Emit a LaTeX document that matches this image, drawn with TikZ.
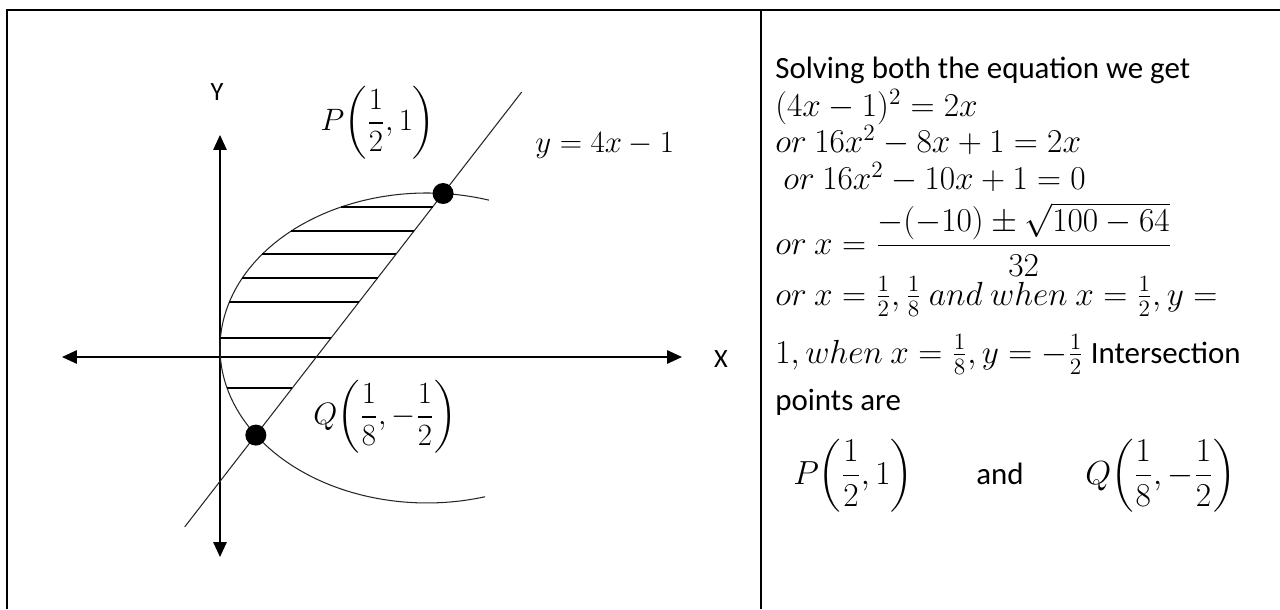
\RequirePackage{fix-cm}
\documentclass[tikz,border=0pt]{standalone}
\usepackage{amsmath}
\usepackage{fontspec}
\setmainfont{Carlito}
\usetikzlibrary{arrows.meta,calc}
\newcommand{\txtsize}{\fontsize{17.6}{21}\selectfont}
\begin{document}
\begin{tikzpicture}[x=0.02cm,y=0.02cm,
  frame/.style={line width=1.15pt},
  axis/.style={line width=0.85pt,-{Triangle[length=0.3cm,width=0.27cm]}},
  thinline/.style={line width=0.6pt,black!85},
  hatch/.style={line width=0.6pt},
  dot/.style={circle,fill=black,inner sep=0pt,minimum size=0.42cm},
  txt/.style={anchor=base west,inner sep=0pt,font=\txtsize},
  mtxt/.style={anchor=base west,inner sep=0pt,font=\fontsize{19}{19}\selectfont},
  mth/.style={inner sep=0pt,font=\fontsize{17.6}{17.6}\selectfont},
  lbl/.style={inner sep=0pt,font=\fontsize{15}{18}\selectfont}
]
\useasboundingbox (0,0) rectangle (1280,609);
% table frame
\draw[frame] (7,0) -- (7,599) -- (1280,599);
\draw[frame] (761,599) -- (761,0);
% axes
\coordinate (O) at (220,252);
\coordinate (Ytop) at (220,474);
\coordinate (Ybot) at (220,52);
\coordinate (Xl) at (62,252);
\coordinate (Xr) at (682,252);
\draw[axis] (O) -- (Ytop);
\draw[axis] (O) -- (Ybot);
\draw[axis] (O) -- (Xl);
\draw[axis] (O) -- (Xr);
% curve
\coordinate (C) at (427,261);
\draw[thinline] ($(C)+(72.6:4.14cm and 3.1cm)$) arc[start angle=72.6,end angle=286.3,x radius=4.14cm,y radius=3.1cm];
\coordinate (P) at ($(C)+(85.55:4.14cm and 3.1cm)$);
\coordinate (Q) at ($(C)+(214.2:4.14cm and 3.1cm)$);
% line y = 4x - 1
\draw[thinline] ($(Q)!-0.38!(P)$) -- ($(Q)!1.42!(P)$);
% hatching
\foreach \yy in {402,378,355,331,307,271,221}{
  \pgfmathsetmacro\xa{427-207*sqrt(1-((\yy-261)/155)^2)}
  \pgfmathsetmacro\xb{255.8+(\yy-173.9)/1.290}
  \draw[hatch] (\xa,\yy) -- (\xb,\yy);
}
% points
\node[dot] (Pd) at (P) {};
\node[dot] (Qd) at (Q) {};
% labels
\node[lbl] (Ylab) at (217,517) {Y};
\node[lbl] (Xlab) at (721,250) {X};
\node[mth] (Plab) at (378,486) {$P\biggl(\dfrac{1}{2},1\biggr)$};
\node[mth,anchor=base west] (eq) at (535,456) {$y=4x-1$};
\node[mth] (Qlab) at (385,192) {$Q\biggl(\dfrac{1}{8},-\dfrac{1}{2}\biggr)$};
% right cell
\node[txt] (l1) at (775,530) {Solving both the equation we get};
\node[mtxt] (l2) at (775,492) {$(4x-1)^2=2x$};
\node[mtxt] (l3) at (775,456) {$or\ 16x^2-8x+1=2x$};
\node[mtxt] (l4) at (783,419) {$or\ 16x^2-10x+1=0$};
\node[mtxt] (l5) at (775,355) {$or\ x=\dfrac{-(-10)\pm\sqrt{100-64}}{32}$};
\node[mtxt] (l6) at (775,304) {$or\ x=\frac{1}{2},\frac{1}{8}\ and\ when\ x=\frac{1}{2},y=$};
\node[mtxt] (l7) at (775,246) {$1,when\ x=\frac{1}{8},y=-\frac{1}{2}$ {\txtsize Intersection}};
\node[txt] (l8) at (775,199) {points are};
\node[mtxt] (l9a) at (793,125) {$P\biggl(\dfrac{1}{2},1\biggr)$};
\node[txt] (l9b) at (976,125) {and};
\node[mtxt] (l9c) at (1085,125) {$Q\biggl(\dfrac{1}{8},-\dfrac{1}{2}\biggr)$};
\end{tikzpicture}
\end{document}
